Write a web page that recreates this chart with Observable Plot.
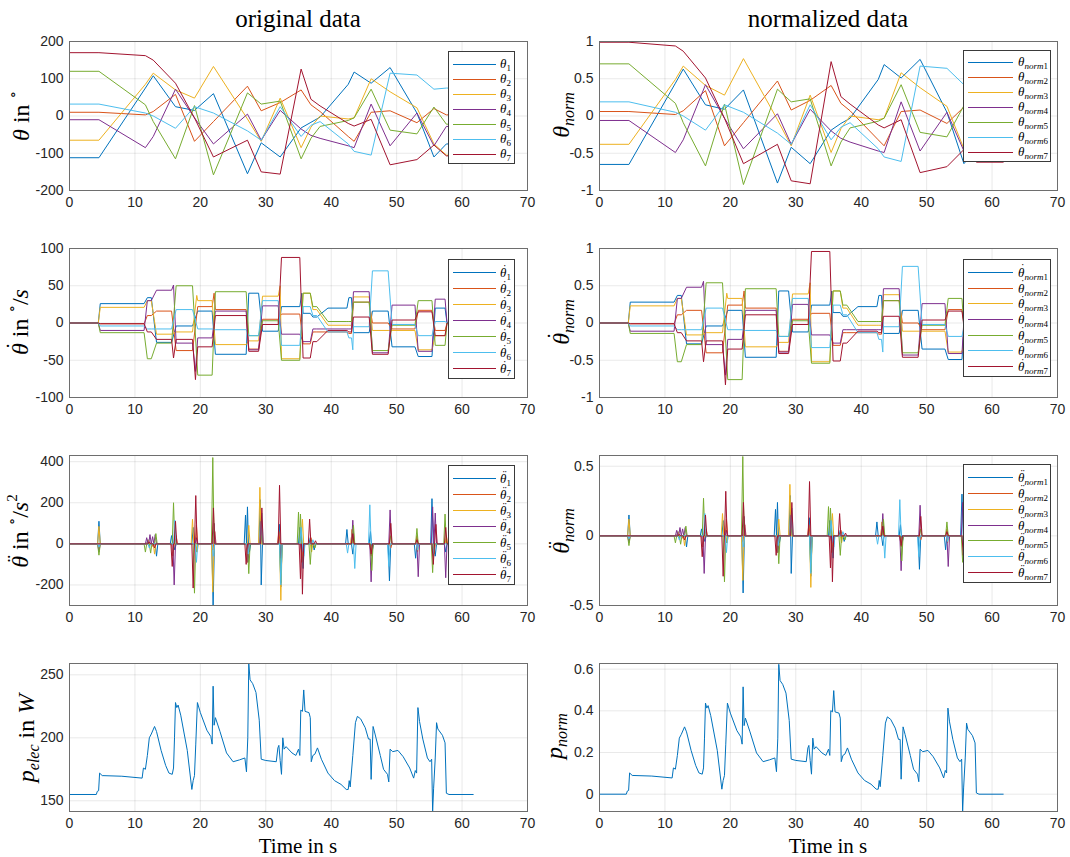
<!DOCTYPE html>
<html><head><meta charset="utf-8">
<script src="https://cdn.jsdelivr.net/npm/d3@7"></script>
<script src="https://cdn.jsdelivr.net/npm/@observablehq/plot@0.6"></script>
<style>
body{margin:0;background:#fff;}
#root{position:relative;width:1070px;height:857px;overflow:hidden;background:#fff;}
.ab{position:absolute;}
.tex{font-family:"Liberation Serif","DejaVu Serif",serif;color:#000;white-space:nowrap;line-height:1;}
.cen{transform:translate(-50%,-50%);}
.ylab{transform:translate(-50%,-50%) rotate(-90deg);font-size:24px;}
.ylab sub{font-size:16px;vertical-align:-5px;line-height:0;}
.ylab sup{font-size:15px;vertical-align:11px;line-height:0;}
.leg{background:#fff;border:1px solid #3a3a3a;box-sizing:border-box;}
.leg .ln{position:absolute;height:0;border-top:1px solid;}
.leg .tx{position:absolute;transform:translateY(-50%);font-size:13px;line-height:12px;}
.leg sub{font-size:9px;vertical-align:-3px;line-height:0;}
.acc{position:relative;display:inline-block;line-height:1;}
.acc .mk{position:absolute;left:0.14em;right:-0.14em;top:0.05em;height:0.5em;text-align:center;font-style:normal;line-height:0.5;font-size:0.9em;}
</style></head>
<body><div id="root"></div>
<script>
// ---------- DATA ----------
const colors = ["#0072BD","#D95319","#EDB120","#7E2F8E","#77AC30","#4DBEEE","#A2142F"];
const xTicks = [0,10,20,30,40,50,60,70];

// joint angles: shared breakpoint times
const AT = [0,4.5,11.6,12.8,16.2,19.1,22.0,27.2,29.3,32.2,35.4,36.9,38.3,42.6,43.5,46.1,49.0,53.1,55.7,57.6,61.7];
const TH1 = [-112,-112,75,108,25,15,60,-155,-72,-110,-32,-17,-3,85,118,88,130,8,-110,-75,-75];
const TH2 = [10,10,3,12,58,-68,-15,80,14,36,70,30,12,-55,-68,10,14,-18,20,3,3];
const TH3 = [-65,-65,85,115,70,48,133,-8,-68,48,-85,-30,0,-8,-5,100,65,22,-75,-105,-105];
const TH4 = [-10,-10,-85,-55,72,-5,-75,5,-65,15,-35,-52,-60,-80,-85,32,-80,8,-80,-28,-28];
const TH5 = [120,120,30,-15,-115,28,-158,62,32,40,-115,-60,-28,-12,-5,72,-38,-48,24,-22,-22];
const TH6 = [32,32,8,0,-33,25,8,-40,-65,25,-55,-25,-15,-75,-95,-105,115,110,72,75,75];
const TH7 = [170,170,162,150,88,-5,-110,-65,-150,-156,126,45,27,-20,-27,-9,-131,-117,-78,-107,-107];
const TH1N = [-.65,-.65,.44,.63,.15,.09,.35,-.90,-.42,-.64,-.19,-.10,-.03,.49,.69,.51,.76,.05,-.64,-.44,-.44];
const TH2N = [.06,.06,.02,.07,.34,-.40,-.09,.47,.08,.21,.41,.17,.07,-.32,-.40,.06,.08,-.10,.12,.02,.02];
const TH3N = [-.38,-.38,.49,.67,.41,.28,.77,-.05,-.40,.28,-.49,-.17,0,-.05,-.03,.58,.38,.13,-.44,-.61,-.61];
const TH4N = [-.06,-.06,-.49,-.32,.42,-.03,-.44,.03,-.38,.09,-.20,-.30,-.35,-.47,-.49,.19,-.47,.05,-.47,-.16,-.16];
const TH5N = [.70,.70,.17,-.09,-.67,.16,-.92,.36,.19,.23,-.67,-.35,-.16,-.07,-.03,.42,-.22,-.28,.14,-.13,-.13];
const TH6N = [.19,.19,.05,0,-.19,.15,.05,-.23,-.38,.15,-.32,-.15,-.09,-.44,-.55,-.61,.67,.64,.42,.44,.44];
const TH7N = [.99,.99,.94,.87,.51,-.03,-.64,-.38,-.87,-.91,.73,.26,.16,-.12,-.16,-.05,-.76,-.68,-.45,-.62,-.62];

// joint velocities: plateau start / end times, value per plateau
const VS = [0,4.7,11.9,13.3,16.3,19.6,22.3,27.4,29.5,32.4,35.7,37.2,39.5,42.7,43.4,46.3,49.3,53.3,55.9,57.7];
const VE = [4.4,11.4,12.5,15.6,18.8,21.8,27.0,28.9,31.9,35.2,36.8,37.8,42.4,43.1,45.8,48.7,52.8,55.4,57.4,61.7];
const V1 = [0,26,34,-26,-4,16,-42,40,-11,22,13,8,20,34,-13,16,-32,-45,20,0];
const V2 = [0,-1,10,16,-37,22,18,-35,5,12,-28,-12,-12,-14,28,0,-8,17,-10,0];
const V3 = [0,21,30,-15,-12,30,-29,-24,36,-48,40,18,-3,-3,35,-10,-10,-36,-17,0];
const V4 = [0,-10,30,44,-27,-20,16,-36,23,-15,-25,-8,-8,-8,42,-40,24,-38,32,0];
const V5 = [0,-13,-48,-27,50,-70,42,-17,3,-50,40,22,2,2,28,-37,-3,30,-30,0];
const V6 = [0,-4,-8,-8,18,-8,-9,-17,30,-30,22,10,-12,-20,-5,70,-2,-17,2,0];
const V7 = [0,-1,-12,-22,-22,-32,10,-38,-2,88,-47,-25,-10,-12,8,-42,4,15,-17,0];
const V1N = [0,.28,.37,-.28,-.04,.17,-.46,.43,-.12,.24,.14,.09,.22,.37,-.14,.17,-.35,-.49,.22,0];
const V2N = [0,-.01,.11,.17,-.40,.24,.20,-.38,.05,.13,-.30,-.13,-.13,-.15,.30,0,-.09,.18,-.11,0];
const V3N = [0,.23,.33,-.16,-.13,.33,-.32,-.26,.39,-.52,.43,.20,-.03,-.03,.38,-.11,-.11,-.39,-.18,0];
const V4N = [0,-.11,.33,.48,-.29,-.22,.17,-.39,.25,-.16,-.27,-.09,-.09,-.09,.46,-.43,.26,-.41,.35,0];
const V5N = [0,-.14,-.52,-.29,.54,-.76,.46,-.18,.03,-.54,.43,.24,.02,.02,.30,-.40,-.03,.33,-.33,0];
const V6N = [0,-.04,-.09,-.09,.20,-.09,-.10,-.18,.33,-.33,.24,.11,-.13,-.22,-.05,.76,-.02,-.18,.02,0];
const V7N = [0,-.01,-.13,-.24,-.24,-.35,.11,-.41,-.02,.96,-.51,-.27,-.11,-.13,.09,-.46,.04,.16,-.18,0];
// transition peaks [t, value, normalized]
const VX1 = [[35.5,40,.43]];
const VX2 = [[22.1,40,.43]];
const VX3 = [[19.45,37,.40],[32.2,50,.54]];
const VX4 = [[15.9,51,.56],[19.25,-65,-.70]];
const VX6 = [[43.3,-36,-.39]];
const VX7 = [[15.9,-47,-.52],[19.25,-76,-.83]];

// joint accelerations: spikes [t, value, normalized]
const ACC1 = [[4.5,110,.15],[12.0,20,.03],[13.3,-60,-.08],[15.6,40,.05],[16.1,-30,-.04],[18.9,80,.11],[19.4,-40,-.05],[21.95,-300,-.41],[26.9,140,.19],[27.2,180,.24],[27.5,-40,-.05],[29.15,215,.29],[29.3,-200,-.27],[32.1,95,.13],[32.3,-210,-.29],[35.2,80,.11],[35.7,-120,-.16],[36.8,30,.04],[37.4,-30,-.04],[42.4,70,.10],[43.3,-50,-.07],[46.0,60,.08],[46.3,-30,-.04],[48.9,-180,-.24],[52.9,-70,-.10],[55.4,220,.30],[55.9,-60,-.08],[57.5,-40,-.05]];
const ACC2 = [[12.0,15,.02],[12.8,-15,-.02],[15.8,-60,-.08],[16.3,40,.05],[19.4,90,.12],[21.9,-30,-.04],[22.2,60,.08],[27.2,-90,-.12],[29.3,80,.11],[32.0,60,.08],[35.5,-90,-.12],[36.9,30,.04],[43.2,70,.10],[46.1,-60,-.08],[49.1,-20,-.03],[53.1,40,.05],[55.7,-50,-.07],[57.5,20,.03]];
const ACC3 = [[4.5,85,.12],[12.0,20,.03],[13.0,-50,-.07],[18.8,120,.16],[19.5,-40,-.05],[21.9,-235,-.32],[27.4,90,.12],[29.1,275,.37],[32.3,-275,-.37],[35.6,120,.16],[37.0,-40,-.05],[43.2,70,.10],[46.2,-50,-.07],[53.2,-40,-.05],[55.6,-60,-.08],[57.6,40,.05]];
const ACC4 = [[4.5,-40,-.05],[11.8,30,.04],[12.3,45,.06],[12.7,35,.05],[13.1,45,.06],[16.0,-200,-.27],[19.4,30,.04],[22.1,100,.14],[27.3,-90,-.12],[29.3,110,.15],[32.3,-70,-.10],[35.5,-40,-.05],[43.3,115,.16],[46.1,-185,-.25],[49.0,165,.22],[53.3,-160,-.22],[55.5,180,.24],[55.9,150,.20],[57.5,-165,-.22]];
const ACC5 = [[4.5,-55,-.07],[11.6,-40,-.05],[12.4,-45,-.06],[13.2,50,.07],[15.9,200,.27],[19.1,-240,-.33],[21.9,420,.57],[27.4,-145,-.20],[29.3,40,.05],[32.3,-190,-.26],[35.0,155,.21],[35.3,145,.20],[36.8,-100,-.14],[37.5,-20,-.03],[43.4,90,.12],[46.2,-130,-.18],[49.1,40,.05],[53.1,75,.10],[55.5,-140,-.19],[57.4,145,.20]];
const ACC6 = [[4.5,-15,-.02],[12.2,-20,-.03],[16.1,115,.16],[19.4,-90,-.12],[22.0,-60,-.08],[27.3,-50,-.07],[29.4,150,.20],[32.3,-200,-.27],[35.4,80,.11],[35.8,-60,-.08],[37.2,20,.03],[42.5,-45,-.06],[43.6,-120,-.16],[45.9,190,.26],[48.8,-110,-.15],[53.2,-30,-.04],[55.6,-50,-.07]];
const ACC7 = [[12.2,10,.01],[13.0,-20,-.03],[15.7,-110,-.15],[16.2,110,.15],[18.9,-215,-.29],[19.3,235,.32],[22.0,175,.24],[27.0,-100,-.14],[29.4,175,.24],[32.1,285,.39],[35.3,-170,-.23],[35.6,-245,-.33],[36.7,120,.16],[37.6,15,.02],[43.3,50,.07],[46.1,-50,-.07],[49.1,100,.14],[53.1,20,.03],[55.6,-100,-.14],[56.0,95,.13],[57.5,80,.11]];

// electrical power
const PT = [0,4.1,4.25,4.45,4.6,5.0,8,11.1,11.3,11.6,11.9,12.2,12.5,13.0,13.3,14.0,14.7,15.2,15.7,15.9,16.05,16.2,16.4,16.6,17.0,18.0,18.7,18.9,19.1,19.3,19.55,20.0,21.0,21.6,21.8,21.95,22.1,22.3,23.0,24.0,25.0,26.0,26.8,27.05,27.25,27.4,27.6,28.0,28.5,29.0,29.3,30.0,31.6,31.85,32.0,32.2,32.4,32.6,32.8,33.1,34.0,34.6,35.0,35.2,35.35,35.6,35.8,36.0,36.6,36.8,36.95,37.2,37.5,37.9,38.5,39.5,40.5,41.5,42.3,42.6,42.75,42.9,43.3,43.7,44.0,44.5,45.2,45.7,45.95,46.1,46.4,46.7,47.5,48.0,48.6,48.8,49.0,49.4,50.2,51.0,52.0,52.6,52.85,53.05,53.25,53.5,54.0,54.7,55.1,55.35,55.5,55.65,55.9,56.1,56.3,57.0,57.4,57.6,58.0,61.7];
const PV = [155,155,157.5,158,172,170,169.5,168,176,175,186,200,203,209,205,190,178,172,171,176,200,228,224,226,218,190,159,166,170,195,228,220,206,201,195,241,210,216,205,188,181,182.5,184,173,200,259,246,243,236,214,183,182,181,192,194,182,171,200,191,193,188,186,191,186,222,221,238,221,220,216,181,186,187,192,183,172,166,163,159,159,166,161,186,212,217,215,208,199,199,167,209,203,186,175,171,165,191,189,190,185,176,168,174,172,224,213,199,184,181,183,141,160,184,212,207,202,196,156,155,155];
const PVN = [0,0,.015,.018,.102,.090,.087,.078,.126,.120,.186,.269,.287,.323,.299,.210,.138,.102,.096,.126,.269,.437,.413,.425,.377,.210,.024,.066,.090,.240,.437,.389,.305,.275,.240,.515,.329,.365,.299,.198,.156,.165,.174,.108,.269,.623,.545,.527,.485,.353,.168,.162,.156,.222,.234,.162,.096,.269,.216,.228,.198,.186,.216,.186,.401,.395,.497,.395,.389,.365,.156,.186,.192,.222,.168,.102,.066,.048,.024,.024,.066,.036,.186,.341,.371,.359,.317,.263,.263,.072,.323,.287,.186,.120,.096,.060,.216,.204,.210,.180,.126,.078,.114,.102,.413,.347,.263,.174,.156,.168,-.084,.030,.174,.341,.311,.281,.246,.006,0,0];

// ---------- BUILDERS ----------
const zip = (ts, vs) => ts.map((t,i)=>({t, v: vs[i]}));
function steps(vals, extra, k){
  const pts = [];
  VS.forEach((s,i)=>{ pts.push({t:s,v:vals[i]},{t:VE[i],v:vals[i]}); });
  (extra||[]).forEach(e=>pts.push({t:e[0], v:e[k]}));
  return pts.sort((a,b)=>a.t-b.t);
}
function spikes(ev, k){
  const pts = [{t:0,v:0}], w = 0.2;
  ev.forEach((e,i)=>{
    const t = e[0];
    const prev = i>0 ? ev[i-1][0] : -1e9, next = i<ev.length-1 ? ev[i+1][0] : 1e9;
    const wl = Math.min(w,(t-prev)/2), wr = Math.min(w,(next-t)/2);
    pts.push({t:t-wl,v:0},{t,v:e[k]},{t:t+wr,v:0});
  });
  pts.push({t:61.7,v:0});
  return pts;
}

const root = document.getElementById('root');
function addDiv(cls, left, top, html, style){
  const d = document.createElement('div');
  d.className = 'ab ' + cls;
  d.style.left = left+'px'; d.style.top = top+'px';
  if (style) Object.assign(d.style, style);
  d.innerHTML = html;
  root.appendChild(d);
  return d;
}

const ROWS = [{top:41,bot:190},{top:248,bot:397},{top:455,bot:605},{top:663,bot:811}];
function panel(col, row, domain, ticks, series){
  const r = ROWS[row];
  const svg = Plot.plot({
    width: 535, height: (r.bot-r.top)+40,
    marginLeft: 69, marginRight: 8, marginTop: 10, marginBottom: 30,
    style: {fontFamily: '"Liberation Sans", Arial, sans-serif', fontSize: "14px", color: "#262626", background: "transparent", overflow: "visible"},
    x: {domain: [0,70], ticks: xTicks, tickSize: 0, tickPadding: 7, tickFormat: d=>String(d), grid: true, label: null},
    y: {domain, ticks, tickSize: 0, tickPadding: 6, tickFormat: d=>String(d), grid: true, label: null},
    marks: [
      ...series.map(s => Plot.line(s.pts, {x:"t", y:"v", stroke: s.color, strokeWidth: 1, clip: true})),
      Plot.frame({stroke: "#6e6e6e"})
    ]
  });
  const d = document.createElement('div');
  d.className = 'ab';
  d.style.left = (col ? 530 : 0)+'px';
  d.style.top = (r.top-10)+'px';
  d.appendChild(svg);
  root.appendChild(d);
}

const THs = [TH1,TH2,TH3,TH4,TH5,TH6,TH7], THNs = [TH1N,TH2N,TH3N,TH4N,TH5N,TH6N,TH7N];
const Vs = [V1,V2,V3,V4,V5,V6,V7], VNs = [V1N,V2N,V3N,V4N,V5N,V6N,V7N];
const VXs = [VX1,VX2,VX3,VX4,[],VX6,VX7];
const ACCs = [ACC1,ACC2,ACC3,ACC4,ACC5,ACC6,ACC7];

panel(0,0,[-200,200],[-200,-100,0,100,200], THs.map((a,i)=>({pts:zip(AT,a), color:colors[i]})));
panel(1,0,[-1,1],[-1,-0.5,0,0.5,1], THNs.map((a,i)=>({pts:zip(AT,a), color:colors[i]})));
panel(0,1,[-100,100],[-100,-50,0,50,100], Vs.map((a,i)=>({pts:steps(a,VXs[i],1), color:colors[i]})));
panel(1,1,[-1,1],[-1,-0.5,0,0.5,1], VNs.map((a,i)=>({pts:steps(a,VXs[i],2), color:colors[i]})));
panel(0,2,[-300,430],[-200,0,200,400], ACCs.map((a,i)=>({pts:spikes(a,1), color:colors[i]})));
panel(1,2,[-0.5,0.577],[-0.5,0,0.5], ACCs.map((a,i)=>({pts:spikes(a,2), color:colors[i]})));
panel(0,3,[141.5,259],[150,200,250], [{pts:zip(PT,PV), color:colors[0]}]);
panel(1,3,[-0.083,0.627],[0,0.2,0.4,0.6], [{pts:zip(PT,PVN), color:colors[0]}]);

// ---------- TEXT ----------
const th = '<i>θ</i>';
const thd = '<span class="acc"><i>θ</i><span class="mk">˙</span></span>';
const thdd = '<span class="acc"><i>θ</i><span class="mk">¨</span></span>';

addDiv('tex cen', 298, 18, 'original data', {fontSize:'25px'});
addDiv('tex cen', 828, 18, 'normalized data', {fontSize:'25px'});
addDiv('tex cen', 298, 846, 'Time in s', {fontSize:'21px'});
addDiv('tex cen', 828, 846, 'Time in s', {fontSize:'21px'});

addDiv('tex ylab', 21, 116, th + ' in <sup>∘</sup>');
addDiv('tex ylab', 20, 322, thd + ' in <sup>∘</sup>/<i>s</i>');
addDiv('tex ylab', 20, 531, thdd + ' in <sup>∘</sup>/<i>s</i><sup>2</sup>');
addDiv('tex ylab', 26, 738, '<i>p</i><sub><i>elec</i></sub> in <i>W</i>');
addDiv('tex ylab', 561, 115, th + '<sub><i>norm</i></sub>');
addDiv('tex ylab', 561, 322, thd + '<sub><i>norm</i></sub>');
addDiv('tex ylab', 561, 531, thdd + '<sub><i>norm</i></sub>');
addDiv('tex ylab', 554, 736, '<i>p</i><sub><i>norm</i></sub>');

// ---------- LEGENDS ----------
function legend(left, top, w, h, labels, lineEnd, textLeft){
  const d = addDiv('leg tex', left, top, '', {width: w+'px', height: h+'px'});
  const rh = (h-8)/7;
  labels.forEach((lab,i)=>{
    const cy = 4 + rh*(i+0.5);
    const ln = document.createElement('div');
    ln.className = 'ln';
    Object.assign(ln.style, {left:'4px', width:(lineEnd-4)+'px', top: cy+'px', borderTopColor: colors[i]});
    d.appendChild(ln);
    const tx = document.createElement('div');
    tx.className = 'tx';
    Object.assign(tx.style, {left: textLeft+'px', top: cy+'px'});
    tx.innerHTML = lab;
    d.appendChild(tx);
  });
}
const idx = [1,2,3,4,5,6,7];
legend(448, 51, 67, 113, idx.map(i=>`${th}<sub>${i}</sub>`), 47, 51);
legend(963, 50, 88, 112, idx.map(i=>`${th}<sub><i>norm</i>${i}</sub>`), 49, 54);
legend(448, 259, 67, 120, idx.map(i=>`${thd}<sub>${i}</sub>`), 47, 51);
legend(963, 259, 88, 118, idx.map(i=>`${thd}<sub><i>norm</i>${i}</sub>`), 49, 54);
legend(448, 465, 67, 120, idx.map(i=>`${thdd}<sub>${i}</sub>`), 47, 51);
legend(963, 464, 88, 119, idx.map(i=>`${thdd}<sub><i>norm</i>${i}</sub>`), 49, 54);
</script></body></html>
